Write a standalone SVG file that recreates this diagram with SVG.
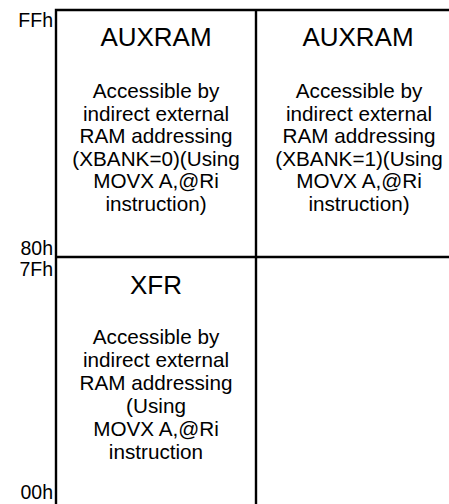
<svg xmlns="http://www.w3.org/2000/svg" width="449" height="504" viewBox="0 0 449 504">
<style>
.ln{stroke:#000;stroke-width:2.4;fill:none}
.t{font-family:"Liberation Sans",Arial,sans-serif;fill:#000;text-anchor:middle}
.title{font-size:26px}
.body{font-size:20.7px}
.addr{font-family:"Liberation Sans",Arial,sans-serif;font-size:19.5px;fill:#000;text-anchor:end}
</style>
<rect width="449" height="504" fill="#fff"/>
<g id="connectors">
<path class="ln" d="M56,504 V10 H449"/>
<path class="ln" d="M256,10 V504"/>
<path class="ln" d="M56,257 H449"/>
</g>
<g id="addr-labels">
<text class="addr" x="53" y="27">FFh</text>
<text class="addr" x="53" y="255">80h</text>
<text class="addr" x="53" y="276">7Fh</text>
<text class="addr" x="53" y="499">00h</text>
</g>
<g id="auxram0">
<text class="t title" x="156" y="46">AUXRAM</text>
<text class="t body" x="156" y="98">Accessible by</text>
<text class="t body" x="156" y="120.5">indirect external</text>
<text class="t body" x="156" y="143">RAM addressing</text>
<text class="t body" x="156" y="165.5">(XBANK=0)(Using</text>
<text class="t body" x="156" y="188">MOVX A,@Ri</text>
<text class="t body" x="156" y="210.5">instruction)</text>
</g>
<g id="auxram1">
<text class="t title" x="358" y="46">AUXRAM</text>
<text class="t body" x="359" y="98">Accessible by</text>
<text class="t body" x="359" y="120.5">indirect external</text>
<text class="t body" x="359" y="143">RAM addressing</text>
<text class="t body" x="359" y="165.5">(XBANK=1)(Using</text>
<text class="t body" x="359" y="188">MOVX A,@Ri</text>
<text class="t body" x="359" y="210.5">instruction)</text>
</g>
<g id="xfr">
<text class="t title" x="156" y="294">XFR</text>
<text class="t body" x="156" y="344">Accessible by</text>
<text class="t body" x="156" y="367">indirect external</text>
<text class="t body" x="156" y="390">RAM addressing</text>
<text class="t body" x="156" y="413">(Using</text>
<text class="t body" x="156" y="436">MOVX A,@Ri</text>
<text class="t body" x="156" y="459">instruction</text>
</g>
<g id="empty"/>
</svg>
